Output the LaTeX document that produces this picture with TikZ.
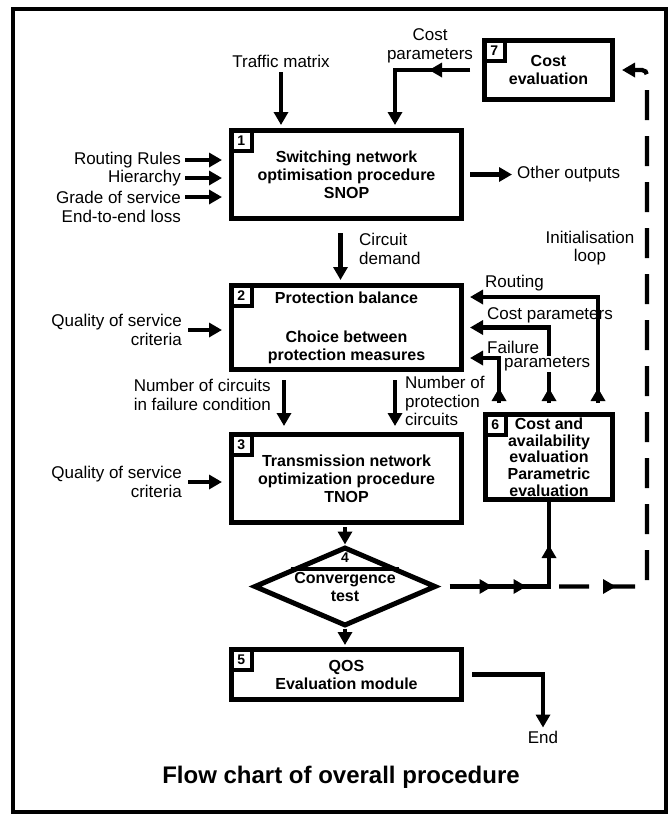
\documentclass[tikz,border=0pt]{standalone}
\usepackage{fontspec}
\setmainfont{Liberation Sans}
\usetikzlibrary{positioning}
\usetikzlibrary{calc}
\usetikzlibrary{shapes.geometric, arrows.meta, decorations.markings}
\tikzset{
	>={Triangle[length=13pt,width=14pt]},
	every node/.style={font=\fontsize{17}{18.5}\selectfont, inner sep=1pt},
	arr/.style={->, line width=4.3pt},
	procbox/.style={draw, line width=5pt, minimum width=230pt, align=center, font=\bfseries\fontsize{16}{18}\selectfont},
	numbox/.style={draw, line width=3.5pt, anchor=north west, minimum size=21pt, inner sep=0pt, font=\bfseries\fontsize{14}{14}\selectfont},
	midtip/.style={postaction={decorate}, decoration={markings, mark=at position #1 with {\arrow{>}}}},
	loopline/.style={line width=4.3pt, dash pattern=on 30pt off 16pt, dash phase=36pt}
}

\begin{document}
\begin{tikzpicture}[x=1pt, y=-1pt]
	\useasboundingbox (0,0) rectangle (670,815);
	\draw[line width=3.5pt] (13,9) rectangle (666,812);

	% process boxes
	\node (costev) [procbox, minimum width=128pt, minimum height=59pt] at (548.5,70) {Cost\\evaluation};
	\node (snop) [procbox, minimum height=88pt] at (346.5,174.5) {Switching network\\optimisation procedure\\SNOP};
	\node (prot) [procbox, minimum height=84pt] at (346.5,327.5) {Protection balance\\[21pt]Choice between\\protection measures};
	\node (tnop) [procbox, minimum height=88pt] at (346.5,478.5) {Transmission network\\optimization procedure\\TNOP};
	\node (avail) [procbox, minimum width=127pt, minimum height=85pt, font=\bfseries\fontsize{16}{16.7}\selectfont] at (549,457) {Cost and\\availability\\evaluation\\Parametric\\evaluation};
	\node (conv) [diamond, draw, line width=5pt, aspect=2.3, inner sep=0pt, minimum width=182pt, minimum height=79pt, align=center, font=\bfseries\fontsize{16}{18}\selectfont] at (345,586.5) {Convergence\\test};
	\node (qos) [procbox, minimum height=50pt] at (346.5,674.5) {QOS\\Evaluation module};

	\node (n7) [numbox] at (costev.north west) {7};
	\node (n1) [numbox] at (snop.north west) {1};
	\node (n2) [numbox] at (prot.north west) {2};
	\node (n3) [numbox] at (tnop.north west) {3};
	\node (n6) [numbox] at (avail.north west) {6};
	\node (n5) [numbox] at (qos.north west) {5};
	\draw[line width=3.5pt] ($(conv.north)!0.58!(conv.west)$) -- ($(conv.north)!0.58!(conv.east)$);
	\node (n4) [font=\bfseries\fontsize{14}{14}\selectfont] at ($(conv.north)!0.155!(conv.south)$) {4};

	% texts
	\node (traffic) at (281,61) {Traffic matrix};
	\node (ctop) [align=center] at (430,46) {Cost\\parameters};
	\node (rules) [anchor=east] at (182,160) {Routing Rules};
	\node (hier) [anchor=east] at (182,178) {Hierarchy};
	\node (grade) [anchor=east] at (182,197) {Grade of service};
	\node (loss) [anchor=east] at (182,216) {End-to-end loss};
	\node (other) [right = 52pt of snop] {Other outputs};
	\node (initl) [align=center] at (590,248) {Initialisation\\loop};
	\node (demand) [anchor=west, align=left] at (358,249) {Circuit\\demand};
	\node (qual2) [anchor=east, align=right] at (183,330) {Quality of service\\criteria};
	\node (lrout) [anchor=west] at (484,283) {Routing};
	\node (lcost) [anchor=west] at (486,315) {Cost parameters};
	\node (lfail) [anchor=west] at (486,347) {Failure};
	\node (nfail) [anchor=east, align=left] at (272,395) {Number of circuits\\in failure condition};
	\node (nprot) [anchor=west, align=left] at (404,401) {Number of\\protection\\circuits};
	\node (qual3) [anchor=east, align=right] at (183,482) {Quality of service\\criteria};
	\node (endl) at (543,737) {End};
	\node (title) [font=\bfseries\fontsize{24}{28}\selectfont] at (341,777) {Flow chart of overall procedure};

	% connectors
	\draw[arr, midtip=41pt, shorten >=3pt] ([xshift=-12pt]costev.west) -| ([xshift=48.5pt]snop.north);
	\draw[arr, shorten <=4pt, shorten >=3pt] (traffic.south) -- (traffic.south |- snop.north);
	\draw[arr, shorten <=3pt, shorten >=7pt] (rules.east) -- (rules.east -| snop.west);
	\draw[arr, shorten <=3pt, shorten >=7pt] (hier.east) -- (hier.east -| snop.west);
	\draw[arr, shorten <=3pt, shorten >=7pt] (grade.east) -- (grade.east -| snop.west);
	\draw[arr, shorten <=6pt, shorten >=4pt] (snop.east |- other.west) -- (other.west);
	\draw[arr, shorten <=12pt, shorten >=3pt] ([xshift=-6pt]snop.south) -- ([xshift=-6pt]prot.north);
	\draw[arr, shorten <=5pt, shorten >=7pt] (qual2.east) -- (qual2.east -| prot.west);
	\draw[arr, midtip=15pt, shorten >=6pt] ([xshift=-50pt,yshift=9pt]avail.north) |- ([yshift=-30.5pt]prot.east);
	\draw[arr, midtip=15pt, shorten >=6pt] ([yshift=9pt]avail.north) |- (prot.east);
	\draw[arr, midtip=15pt, shorten >=6pt] ([xshift=49pt,yshift=9pt]avail.north) |- ([yshift=30.5pt]prot.east);
	\draw[arr, shorten <=8pt, shorten >=6pt] ([xshift=-62.5pt]prot.south) -- ([xshift=-62.5pt]tnop.north);
	\draw[arr, shorten <=8pt, shorten >=6pt] ([xshift=48.5pt]prot.south) -- ([xshift=48.5pt]tnop.north);
	\draw[arr, shorten <=5pt, shorten >=7pt] (qual3.east) -- (qual3.east -| tnop.west);
	\draw[arr, shorten <=2pt] (tnop.south -| conv.north) -- (conv.north);
	\draw[arr, shorten >=2pt] (conv.south) -- (conv.south |- qos.north);
	\draw[arr, shorten <=8pt, shorten >=2pt] (qos.east) -| (endl.north);

	\coordinate (turn) at (avail.south |- conv.east);
	\draw[line width=4.3pt, postaction={decorate}, decoration={markings,
		mark=at position 43pt with {\arrow{>}},
		mark=at position 77pt with {\arrow{>}},
		mark=at position 141pt with {\arrow{>}}}]
		([xshift=11pt]conv.east) -- (turn) -- (avail.south);
	\draw[arr, loopline, rounded corners=5pt, midtip=67pt] (turn) -- ([xshift=98pt]turn) |- ([xshift=7pt]costev.east);

	% second line of the failure label, over the cost line
	\node (lpar) [anchor=west, fill=white] at (503,364) {parameters};
\end{tikzpicture}
\end{document}
